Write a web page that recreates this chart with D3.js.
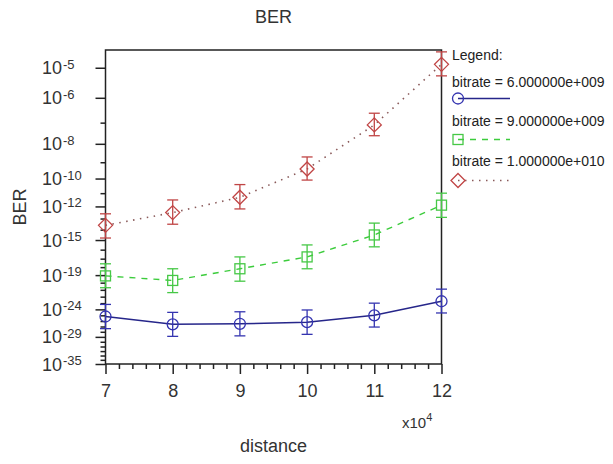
<!DOCTYPE html>
<html>
<head>
<meta charset="utf-8">
<script src="https://cdn.jsdelivr.net/npm/d3@7"></script>
<style>
  html, body { margin: 0; padding: 0; background: #fff; }
  svg { display: block; font-family: "Liberation Sans", Arial, sans-serif; }
</style>
</head>
<body>
<svg id="chart" width="613" height="464"></svg>
<script>
// distance (in units of 1e4)
const distances = [7, 8, 9, 10, 11, 12];

// log10(BER) per bitrate, with lower / upper error bounds
const ber6e9    = [-25.2, -26.6, -26.5, -26.2, -25.0, -22.7];
const ber6e9Hi  = [-23.2, -24.5, -24.4, -24.1, -23.0, -20.9];
const ber6e9Lo  = [-27.4, -28.9, -28.8, -28.5, -27.1, -24.6];

const ber9e9    = [-19.1, -19.7, -18.2, -16.8, -14.5, -11.9];
const ber9e9Hi  = [-17.6, -18.2, -16.8, -15.5, -13.4, -11.0];
const ber9e9Lo  = [-20.7, -21.4, -19.8, -18.2, -15.7, -12.9];

const ber1e10   = [-13.6, -12.5, -11.3, -9.4, -7.1, -4.9];
const ber1e10Hi = [-12.6, -11.5, -10.4, -8.7, -6.6, -4.55];
const ber1e10Lo = [-14.8, -13.5, -12.2, -10.1, -7.6, -5.25];

const seriesNames = ["bitrate = 6.000000e+009", "bitrate = 9.000000e+009", "bitrate = 1.000000e+010"];

// labelled BER decades on the y axis, plus the visible range
const yMajorExp = [-5, -6, -8, -10, -12, -15, -19, -24, -29, -35];
const yRangeExp = [-4.5, -35];
const xTicks = [7, 8, 9, 10, 11, 12];

// ---- Gaussian tail helpers: BER = Q(q) ----
function lnQ(v) {
  // continued fraction for the Mills ratio
  let t = v;
  for (let k = 80; k >= 1; k--) t = v + k / t;
  return -v * v / 2 - 0.5 * Math.log(2 * Math.PI) - Math.log(t);
}
function qFromExp(e) {
  const target = e * Math.LN10;
  let lo = 0.5, hi = 40;
  for (let i = 0; i < 80; i++) {
    const mid = (lo + hi) / 2;
    if (lnQ(mid) > target) lo = mid; else hi = mid;
  }
  return (lo + hi) / 2;
}

const svg = d3.select("#chart");
const pL = 105.5, pR = 441.5, pT = 50, pB = 364;

const x = d3.scaleLinear().domain([7, 12]).range([pL, pR]);
const yQ = d3.scaleLog().domain(yRangeExp.map(qFromExp)).range([pT, pB]);
const y = e => yQ(qFromExp(e));

const ink = "#222";

// ---- axes ----
const xMinor = d3.range(7, 12.001, 0.2).filter(v => Math.abs(v - Math.round(v)) > 1e-6);
svg.append("g").attr("transform", `translate(0,${pB})`)
  .call(d3.axisBottom(x).tickValues(xMinor).tickSize(5).tickFormat(""))
  .call(g => g.select(".domain").remove());
const gx = svg.append("g").attr("transform", `translate(0,${pB})`)
  .call(d3.axisBottom(x).tickValues(xTicks).tickSize(10).tickFormat(d3.format("d")));
gx.select(".domain").remove();
gx.selectAll(".tick text").attr("y", 0).attr("dy", 33).attr("font-size", 18).attr("fill", "#333")
  .attr("font-family", "Liberation Sans, Arial, sans-serif");

const yMinorExp = d3.range(-5, -36, -1).filter(e => !yMajorExp.includes(e));
svg.append("g").attr("transform", `translate(${pL},0)`)
  .call(d3.axisLeft(yQ).tickValues(yMinorExp.map(qFromExp)).tickSize(5).tickFormat(""))
  .call(g => g.select(".domain").remove());
svg.append("g").attr("transform", `translate(${pL},0)`)
  .call(d3.axisLeft(yQ).tickValues(yMajorExp.map(qFromExp)).tickSize(10).tickFormat(""))
  .call(g => g.select(".domain").remove());

svg.selectAll(".tick line").attr("stroke", ink).attr("stroke-width", 1.5);

// y tick labels with superscript exponents
const yl = svg.append("g").attr("fill", "#333");
yMajorExp.forEach(e => {
  const yy = y(e);
  yl.append("text").attr("x", 42).attr("y", yy + 6.5).attr("font-size", 18).text("10");
  yl.append("text").attr("x", 63).attr("y", yy + 1).attr("font-size", 13).text(String(e));
});

// frame
svg.append("rect").attr("x", pL).attr("y", pT)
  .attr("width", pR - pL).attr("height", pB - pT)
  .attr("fill", "none").attr("stroke", ink).attr("stroke-width", 1.5);

// titles
svg.append("text").attr("x", (pL + pR) / 2).attr("y", 23).attr("text-anchor", "middle")
  .attr("font-size", 18).attr("fill", "#333").text("BER");
svg.append("text").attr("x", (pL + pR) / 2).attr("y", 452).attr("text-anchor", "middle")
  .attr("font-size", 18).attr("fill", "#333").text("distance");
svg.append("text").attr("transform", `translate(26,${(pT + pB) / 2}) rotate(-90)`)
  .attr("text-anchor", "middle").attr("font-size", 18).attr("fill", "#333").text("BER");
const mult = svg.append("text").attr("x", 402).attr("y", 428).attr("font-size", 15).attr("fill", "#333");
mult.append("tspan").text("x10");
mult.append("tspan").attr("dy", -7).attr("font-size", 11).text("4");

// ---- series ----
const series = [
  { name: seriesNames[0], v: ber6e9, hi: ber6e9Hi, lo: ber6e9Lo, line: "#26268a", mark: "#3434b0",
    dash: null, width: 1.5, shape: "circle" },
  { name: seriesNames[1], v: ber9e9, hi: ber9e9Hi, lo: ber9e9Lo, line: "#3ccc3c", mark: "#46c846",
    dash: "6,6", width: 1.4, shape: "square" },
  { name: seriesNames[2], v: ber1e10, hi: ber1e10Hi, lo: ber1e10Lo, line: "#8a5a5a", mark: "#c04545",
    dash: "1.5,5.5", width: 1.6, shape: "diamond" }
];

function drawMarker(g, shape, cx, cy, color) {
  if (shape === "circle") {
    g.append("circle").attr("cx", cx).attr("cy", cy).attr("r", 5.5)
      .attr("fill", "none").attr("stroke", color).attr("stroke-width", 1.3);
  } else if (shape === "square") {
    g.append("rect").attr("x", cx - 5).attr("y", cy - 5).attr("width", 10).attr("height", 10)
      .attr("fill", "none").attr("stroke", color).attr("stroke-width", 1.3);
  } else {
    g.append("path").attr("d", `M${cx},${cy - 7}L${cx + 7},${cy}L${cx},${cy + 7}L${cx - 7},${cy}Z`)
      .attr("fill", "none").attr("stroke", color).attr("stroke-width", 1.3);
  }
}

const line = d3.line().x(d => x(d[0])).y(d => y(d[1]));
series.forEach(s => {
  const g = svg.append("g");
  const pts = distances.map((d, i) => [d, s.v[i]]);
  g.append("path").attr("d", line(pts)).attr("fill", "none")
    .attr("stroke", s.line).attr("stroke-width", s.width)
    .attr("stroke-dasharray", s.dash);
  distances.forEach((d, i) => {
    const cx = x(d), y1 = y(s.hi[i]), y2 = y(s.lo[i]);
    g.append("line").attr("x1", cx).attr("x2", cx).attr("y1", y1).attr("y2", y2)
      .attr("stroke", s.mark).attr("stroke-width", 1.3);
    [y1, y2].forEach(yy => g.append("line").attr("x1", cx - 5.5).attr("x2", cx + 5.5)
      .attr("y1", yy).attr("y2", yy).attr("stroke", s.mark).attr("stroke-width", 1.3));
    drawMarker(g, s.shape, cx, y(s.v[i]), s.mark);
  });
});

// ---- legend ----
const lg = svg.append("g").attr("font-size", 14).attr("fill", "#222");
lg.append("text").attr("x", 452).attr("y", 60).text("Legend:");
series.forEach((s, i) => {
  const ty = 86.5 + i * 39.5, sy = 98.5 + i * 41;
  lg.append("text").attr("x", 452).attr("y", ty).text(s.name);
  lg.append("line").attr("x1", 458).attr("x2", 510).attr("y1", sy).attr("y2", sy)
    .attr("stroke", s.line).attr("stroke-width", s.width).attr("stroke-dasharray", s.dash);
  drawMarker(lg, s.shape, 458, sy, s.mark);
});
</script>
</body>
</html>
